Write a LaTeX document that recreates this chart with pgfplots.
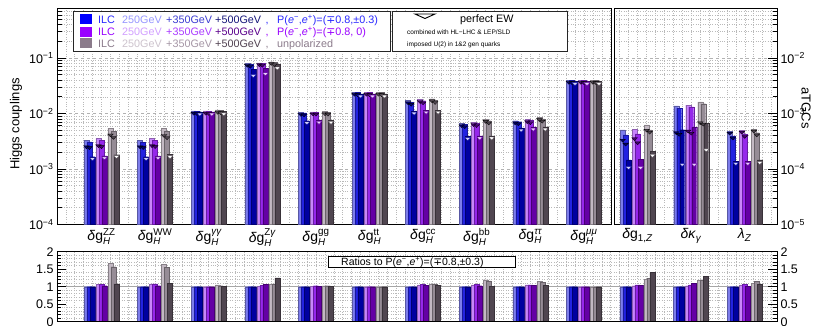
\documentclass[border=0pt]{standalone}
\usepackage{fontspec}
\setmainfont{Liberation Sans}
\newfontfamily\dejavu{DejaVu Sans}
\usepackage{amsmath}
\usepackage{pgfplots}
\usepackage{pgfplotstable}
\pgfplotsset{compat=1.18}

\definecolor{B1}{RGB}{125,125,235}
\definecolor{B2}{RGB}{35,35,225}
\definecolor{B3}{RGB}{0,0,160}
\definecolor{P1}{RGB}{200,135,250}
\definecolor{P2}{RGB}{150,40,235}
\definecolor{P3}{RGB}{100,0,165}
\definecolor{G1}{RGB}{195,185,195}
\definecolor{G2}{RGB}{150,140,150}
\definecolor{G3}{RGB}{80,70,80}
\definecolor{LB}{RGB}{0,0,255}
\definecolor{LP}{RGB}{153,0,255}
\definecolor{LG}{RGB}{139,123,139}
\definecolor{Ba}{RGB}{40,40,255}
\definecolor{Bb}{RGB}{150,150,255}
\definecolor{Bc}{RGB}{60,60,210}
\definecolor{Bd}{RGB}{20,20,120}
\definecolor{Pa}{RGB}{153,0,255}
\definecolor{Pb}{RGB}{210,160,255}
\definecolor{Pc}{RGB}{170,60,255}
\definecolor{Pd}{RGB}{90,0,140}
\definecolor{Ga}{RGB}{139,123,139}
\definecolor{Gb}{RGB}{205,195,205}
\definecolor{Gc}{RGB}{165,150,165}
\definecolor{Gd}{RGB}{80,65,80}

\pgfplotstableread{
x b1 b2 b3 b4 b5 b6 b7 b8 b9
0 3.30e-3 3.07e-3 1.66e-3 3.55e-3 3.30e-3 1.72e-3 5.45e-3 4.82e-3 1.80e-3
1 3.30e-3 3.05e-3 1.66e-3 3.58e-3 3.30e-3 1.72e-3 5.40e-3 4.75e-3 1.81e-3
2 1.11e-2 1.10e-2 1.07e-2 1.11e-2 1.10e-2 1.07e-2 1.16e-2 1.13e-2 1.08e-2
3 8.0e-2 7.7e-2 6.2e-2 8.2e-2 8.0e-2 6.5e-2 8.6e-2 8.4e-2 7.7e-2
4 1.05e-2 1.03e-2 7.4e-3 1.07e-2 1.06e-2 7.55e-3 1.08e-2 1.06e-2 7.55e-3
5 2.43e-2 2.40e-2 2.25e-2 2.43e-2 2.40e-2 2.25e-2 2.43e-2 2.40e-2 2.25e-2
6 1.71e-2 1.60e-2 1.11e-2 1.80e-2 1.70e-2 1.15e-2 1.85e-2 1.73e-2 1.15e-2
7 6.6e-3 6.3e-3 3.85e-3 6.9e-3 6.65e-3 3.95e-3 7.9e-3 7.4e-3 3.95e-3
8 7.4e-3 7.1e-3 5.5e-3 7.8e-3 7.45e-3 5.7e-3 8.5e-3 7.95e-3 5.7e-3
9 4.0e-2 3.95e-2 3.78e-2 4.0e-2 3.95e-2 3.78e-2 4.0e-2 3.95e-2 3.78e-2
}\higgsbars

\pgfplotstableread{
x t1 t2 t3 t4 t5 t6 t7 t8 t9
0 2.50e-3 2.42e-3 1.52e-3 2.62e-3 2.52e-3 1.58e-3 4.10e-3 3.70e-3 1.66e-3
1 2.50e-3 2.42e-3 1.52e-3 2.62e-3 2.52e-3 1.58e-3 4.00e-3 3.65e-3 1.66e-3
2 1.01e-2 1.00e-2 0.97e-2 1.01e-2 1.00e-2 0.97e-2 1.05e-2 1.03e-2 0.98e-2
3 7.4e-2 7.1e-2 4.8e-2 7.6e-2 7.4e-2 5.2e-2 8.0e-2 7.6e-2 6.6e-2
4 0.96e-2 0.94e-2 6.8e-3 0.98e-2 0.97e-2 6.9e-3 0.99e-2 0.97e-2 6.9e-3
5 2.22e-2 2.19e-2 2.05e-2 2.22e-2 2.19e-2 2.05e-2 2.22e-2 2.19e-2 2.05e-2
6 1.56e-2 1.46e-2 1.01e-2 1.64e-2 1.55e-2 1.05e-2 1.69e-2 1.58e-2 1.05e-2
7 6.0e-3 5.75e-3 3.5e-3 6.3e-3 6.05e-3 3.6e-3 7.2e-3 6.75e-3 3.6e-3
8 6.75e-3 6.5e-3 5.0e-3 7.1e-3 6.8e-3 5.2e-3 7.75e-3 7.25e-3 5.2e-3
9 3.65e-2 3.6e-2 3.45e-2 3.65e-2 3.6e-2 3.45e-2 3.65e-2 3.6e-2 3.45e-2
}\higgstri

\pgfplotstableread{
x b1 b2 b3 b4 b5 b6 b7 b8 b9
10 5.05e-4 4.1e-4 1.45e-4 5.2e-4 4.3e-4 1.5e-4 6.2e-4 5.05e-4 2.05e-4
11 1.37e-3 1.25e-3 5.1e-4 1.41e-3 1.31e-3 5.6e-4 1.62e-3 1.5e-3 6.6e-4
12 4.7e-4 3.95e-4 1.37e-4 4.95e-4 4.2e-4 1.37e-4 5.15e-4 4.5e-4 1.45e-4
}\tgcbars

\pgfplotstableread{
x t1 t2 t3 t4 t5 t6 t7 t8 t9
10 3.3e-4 2.8e-4 1.05e-4 3.5e-4 2.95e-4 1.05e-4 5.0e-4 4.6e-4 1.75e-4
11 4.5e-4 4.2e-4 1.2e-4 4.8e-4 4.4e-4 1.2e-4 6.8e-4 6.4e-4 2.2e-4
12 4.4e-4 3.6e-4 1.25e-4 4.6e-4 3.85e-4 1.25e-4 4.8e-4 4.1e-4 1.3e-4
}\tgctri

\pgfplotstableread{
x b1 b2 b3 b4 b5 b6 b7 b8 b9
0 1 1 1 1.07 1.07 1.03 1.66 1.57 1.08
1 1 1 1 1.08 1.08 1.03 1.63 1.55 1.09
2 1 1 1 1.00 1.00 1.00 1.05 1.03 1.01
3 1 1 1 1.02 1.04 1.06 1.07 1.08 1.25
4 1 1 1 1.02 1.03 1.02 1.03 1.03 1.02
5 1 1 1 1.00 1.00 1.00 1.00 1.00 1.00
6 1 1 1 1.05 1.06 1.04 1.08 1.08 1.04
7 1 1 1 1.05 1.06 1.03 1.20 1.17 1.02
8 1 1 1 1.05 1.05 1.04 1.15 1.12 1.04
9 1 1 1 1.00 1.00 1.00 1.00 1.00 1.00
10 1 1 1 1.03 1.05 1.04 1.22 1.24 1.41
11 1 1 1 1.03 1.05 1.10 1.18 1.20 1.30
12 1 1 1 1.05 1.06 1.01 1.10 1.15 1.06
}\ratios

\pgfplotsset{
  s1/.style={bar shift=-15pt, fill=B1, draw=B1!70!black},
  s2/.style={bar shift=-12pt, fill=B2, draw=B2!70!black},
  s3/.style={bar shift=-9pt,  fill=B3, draw=B3!70!black},
  s4/.style={bar shift=-3pt,  fill=P1, draw=P1!70!black},
  s5/.style={bar shift=0pt,   fill=P2, draw=P2!70!black},
  s6/.style={bar shift=3pt,   fill=P3, draw=P3!70!black},
  s7/.style={bar shift=9pt,   fill=G1, draw=G1!70!black},
  s8/.style={bar shift=12pt,  fill=G2, draw=G2!70!black},
  s9/.style={bar shift=15pt,  fill=G3, draw=G3!70!black},
  m1/.style={mark options={xshift=-15pt, yscale=-0.6, fill=B3!70!black, draw=black, line width=0.3pt}},
  m2/.style={mark options={xshift=-12pt, yscale=-0.6, fill=B3!70!black, draw=black, line width=0.3pt}},
  m3/.style={mark options={xshift=-9pt,  yscale=-0.6, fill=B1!35!white, draw=B3, line width=0.3pt}},
  m4/.style={mark options={xshift=-3pt,  yscale=-0.6, fill=P3!70!black, draw=black, line width=0.3pt}},
  m5/.style={mark options={xshift=0pt,   yscale=-0.6, fill=P3!70!black, draw=black, line width=0.3pt}},
  m6/.style={mark options={xshift=3pt,   yscale=-0.6, fill=P1!40!white, draw=P3, line width=0.3pt}},
  m7/.style={mark options={xshift=9pt,   yscale=-0.6, fill=G3, draw=black, line width=0.3pt}},
  m8/.style={mark options={xshift=12pt,  yscale=-0.6, fill=G3, draw=black, line width=0.3pt}},
  m9/.style={mark options={xshift=15pt,  yscale=-0.6, fill=white, draw=G3, line width=0.3pt}},
  common/.style={
    scale only axis,
    axis line style={line width=0.9pt},
    major tick length=9pt, minor tick length=4.5pt,
    every tick/.style={black, line width=0.6pt},
    tick label style={font=\fontsize{12.5}{13}\selectfont},
    major x tick style={draw=none}, minor x tick style={draw=none},
    minor xtick={-2,-1.8333333,...,14},
    xminorgrids, yminorgrids,
    minor grid style={dotted, gray!55, line width=0.5pt},
    major grid style={dashed, gray!60, line width=0.6pt},
    xticklabel style={font=\fontsize{14}{14}\selectfont, yshift=-1pt},
  },
}

\begin{document}
\begin{tikzpicture}
% ---------- Higgs couplings panel ----------
\begin{axis}[common,
  at={(57pt,-224.3pt)}, anchor=south west,
  width=554pt, height=216.3pt,
  xmin=-0.83, xmax=9.505,
  ymode=log, ymin=1e-4, ymax=0.8, log origin=infty,
  ytick={1e-4,1e-3,1e-2,1e-1},
  yticklabels={10\textsuperscript{−4},10\textsuperscript{−3},10\textsuperscript{−2},10\textsuperscript{−1}},
  minor ytick={2e-4,3e-4,4e-4,5e-4,6e-4,7e-4,8e-4,9e-4,2e-3,3e-3,4e-3,5e-3,6e-3,7e-3,8e-3,9e-3,2e-2,3e-2,4e-2,5e-2,6e-2,7e-2,8e-2,9e-2,0.2,0.3,0.4,0.5,0.6,0.7},
  ytick pos=left, ymajorgrids,
  xtick={0,...,9},
  xticklabels={
    {\textit{δ}g$^{\text{ZZ}}_{\text{\itshape H}}$},
    {\textit{δ}g$^{\text{WW}}_{\text{\itshape H}}$},
    {\textit{δ}g$^{\text{\itshape γγ}}_{\text{\itshape H}}$},
    {\textit{δ}g$^{\text{Z\itshape γ}}_{\text{\itshape H}}$},
    {\textit{δ}g$^{\text{gg}}_{\text{\itshape H}}$},
    {\textit{δ}g$^{\text{tt}}_{\text{\itshape H}}$},
    {\textit{δ}g$^{\text{cc}}_{\text{\itshape H}}$},
    {\textit{δ}g$^{\text{bb}}_{\text{\itshape H}}$},
    {\textit{δ}g$^{\text{\itshape ττ}}_{\text{\itshape H}}$},
    {\textit{δ}g$^{\text{\itshape μμ}}_{\text{\itshape H}}$}},
]
\pgfplotsinvokeforeach{1,...,9}{
  \addplot[ybar, bar width=5pt, line width=0.3pt, s#1] table[x=x,y=b#1]{\higgsbars};
}
\pgfplotsinvokeforeach{1,...,9}{
  \addplot[only marks, mark=triangle*, mark size=3.3pt, m#1] table[x=x,y=t#1]{\higgstri};
}
\end{axis}

% ---------- aTGC panel ----------
\begin{axis}[common,
  at={(614pt,-224.3pt)}, anchor=south west,
  width=163pt, height=216.3pt,
  xmin=9.56, xmax=12.601,
  ymode=log, ymin=1e-5, ymax=0.08, log origin=infty,
  ytick={1e-5,1e-4,1e-3,1e-2},
  yticklabels={10\textsuperscript{−5},10\textsuperscript{−4},10\textsuperscript{−3},10\textsuperscript{−2}},
  minor ytick={2e-5,3e-5,4e-5,5e-5,6e-5,7e-5,8e-5,9e-5,2e-4,3e-4,4e-4,5e-4,6e-4,7e-4,8e-4,9e-4,2e-3,3e-3,4e-3,5e-3,6e-3,7e-3,8e-3,9e-3,2e-2,3e-2,4e-2,5e-2,6e-2,7e-2},
  ytick pos=right, yticklabel pos=right, ymajorgrids,
  xtick={10,11,12},
  xticklabels={
    {\textit{δ}g\textsubscript{1,\textit{Z}}},
    {\textit{δκ}\textsubscript{\textit{γ}}},
    {\textit{λ}\textsubscript{\textit{Z}}}},
]
\pgfplotsinvokeforeach{1,...,9}{
  \addplot[ybar, bar width=5pt, line width=0.3pt, s#1] table[x=x,y=b#1]{\tgcbars};
}
\pgfplotsinvokeforeach{1,...,9}{
  \addplot[only marks, mark=triangle*, mark size=3.3pt, m#1] table[x=x,y=t#1]{\tgctri};
}
\end{axis}

% ---------- ratio panel ----------
\begin{axis}[common,
  at={(57pt,-321.7pt)}, anchor=south west,
  width=720pt, height=70pt,
  xmin=-0.83, xmax=12.603,
  ymin=0, ymax=2,
  ytick={0,0.5,1,1.5,2}, yticklabels={0,0.5,1,1.5,2},
  minor y tick num=4,
  ytick pos=left,
  xtick={0,...,12}, xticklabels={},
  extra y ticks={1}, extra y tick labels={},
  extra y tick style={grid=major, major grid style={solid, gray!70, line width=0.9pt}},
]
\pgfplotsinvokeforeach{1,...,9}{
  \addplot[ybar, bar width=5pt, line width=0.3pt, s#1] table[x=x,y=b#1]{\ratios};
}
\end{axis}
\begin{axis}[common,
  at={(57pt,-321.7pt)}, anchor=south west,
  width=720pt, height=70pt,
  xmin=-0.83, xmax=12.603,
  ymin=0, ymax=2,
  xminorgrids=false, yminorgrids=false,
  ytick={0,0.5,1,1.5,2}, yticklabels={0,0.5,1,1.5,2},
  minor y tick num=4,
  ytick pos=right, yticklabel pos=right,
  xtick=\empty, minor xtick={},
]
\end{axis}

% ---------- labels ----------
\node[rotate=90, font=\fontsize{13}{13}\selectfont] at (16pt,-124pt) {Higgs couplings};
\node[rotate=-90, font=\fontsize{13}{13}\selectfont] at (806pt,-108pt) {aTGCs};

% ---------- legend box 1 ----------
\draw[black!85, line width=1pt, fill=white] (73pt,-11.7pt) rectangle (390pt,-51.7pt);
\fill[LB] (80pt,-14.3pt) rectangle (91.5pt,-24.3pt);
\fill[LP] (80pt,-26.7pt) rectangle (91.5pt,-36.7pt);
\fill[LG] (80pt,-38.3pt) rectangle (91.5pt,-48.3pt);
\begin{scope}[every node/.style={anchor=base west, inner sep=0pt, font=\fontsize{10.8}{11}\selectfont}]
\node[text=Ba] at (98pt,-23.2pt) {ILC};
\node[text=Bb] at (122pt,-23.2pt) {250GeV};
\node[text=Bc] at (166pt,-23.2pt) {+350GeV};
\node[text=Bd] at (215pt,-23.2pt) {+500GeV};
\node[text=Ba] at (265.5pt,-23.2pt) {,};
\node[text=Ba] at (277pt,-23.2pt) {P(\textit{e}\textsuperscript{−},\textit{e}\textsuperscript{+})=({\dejavu ∓}0.8,±0.3)};
\node[text=Pa] at (98pt,-35.6pt) {ILC};
\node[text=Pb] at (122pt,-35.6pt) {250GeV};
\node[text=Pc] at (166pt,-35.6pt) {+350GeV};
\node[text=Pd] at (215pt,-35.6pt) {+500GeV};
\node[text=Pa] at (265.5pt,-35.6pt) {,};
\node[text=Pa] at (277pt,-35.6pt) {P(\textit{e}\textsuperscript{−},\textit{e}\textsuperscript{+})=({\dejavu ∓}0.8, 0)};
\node[text=Ga] at (98pt,-47.2pt) {ILC};
\node[text=Gb] at (122pt,-47.2pt) {250GeV};
\node[text=Gc] at (166pt,-47.2pt) {+350GeV};
\node[text=Gd] at (215pt,-47.2pt) {+500GeV};
\node[text=Ga] at (265.5pt,-47.2pt) {,};
\node[text=Ga] at (277pt,-47.2pt) {unpolarized};
\end{scope}

% ---------- legend box 2 ----------
\draw[black!85, line width=1pt, fill=white] (392pt,-11.7pt) rectangle (567pt,-51.7pt);
\draw[black, line width=0.9pt, fill=white] (415pt,-14pt) -- (435pt,-14pt) -- (425pt,-18.5pt) -- cycle;
\node[anchor=base west, inner sep=0pt, font=\fontsize{10.8}{11}\selectfont] at (460pt,-22.9pt) {perfect EW};
\node[anchor=base west, inner sep=0pt, font=\fontsize{6.5}{7}\selectfont] at (407pt,-34.6pt) {combined with HL−LHC \& LEP/SLD};
\node[anchor=base west, inner sep=0pt, font=\fontsize{6.5}{7}\selectfont] at (407pt,-46.3pt) {imposed U(2) in 1\&2 gen quarks};

% ---------- ratio legend ----------
\draw[black, line width=0.8pt, fill=white] (328pt,-256pt) rectangle (515pt,-267.3pt);
\node[anchor=base west, inner sep=0pt, font=\fontsize{10.5}{11}\selectfont] at (341pt,-265.4pt) {Ratios to P(\textit{e}\textsuperscript{−},\textit{e}\textsuperscript{+})=({\dejavu ∓}0.8,±0.3)};

\pgfresetboundingbox
\path[use as bounding box] (0pt,0pt) rectangle (822pt,-326pt);
\end{tikzpicture}
\end{document}
